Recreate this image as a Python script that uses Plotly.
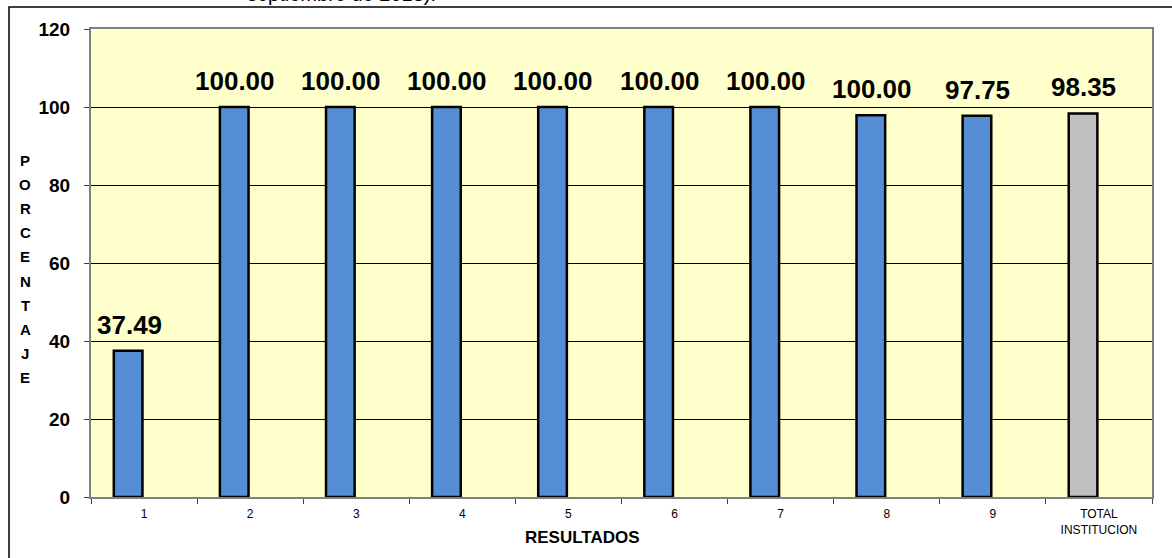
import plotly.graph_objects as go

categories = ["1", "2", "3", "4", "5", "6", "7", "8", "9", "TOTAL<br>INSTITUCION"]
values = [37.49, 100.0, 100.0, 100.0, 100.0, 100.0, 100.0, 97.9, 97.75, 98.35]
value_labels = ["37.49", "100.00", "100.00", "100.00", "100.00", "100.00", "100.00", "100.00", "97.75", "98.35"]
bar_colors = ["#558ED5"] * 9 + ["#C0C0C0"]
y_ticks = [0, 20, 40, 60, 80, 100, 120]
y_title = "PORCENTAJE"
x_title = "RESULTADOS"
top_text = "septiembre de 2013)."

FONT = "Liberation Sans, Arial, sans-serif"
W, H = 1172, 558
L, R, T, B = 91, 20, 29, 61
pw = W - L - R
ph = H - T - B

def px_x(x):
    return (x - L) / pw

def px_y(y):
    return (H - B - y) / ph

fig = go.Figure()
fig.add_trace(go.Bar(
    x=list(range(len(categories))), y=values,
    width=0.27, offset=-0.285,
    marker=dict(color=bar_colors, line=dict(color="black", width=2.5)),
    hoverinfo="skip",
))

annotations = []
for i, (v, t) in enumerate(zip(values, value_labels)):
    annotations.append(dict(
        x=i, y=v, xref="x", yref="y", text=t, showarrow=False,
        xshift=-15, yshift=26, yanchor="middle", xanchor="center",
        font=dict(family=FONT, size=26, color="black", weight="bold"),
    ))

for i, ch in enumerate(y_title):
    annotations.append(dict(
        x=px_x(25), y=px_y(160 + 24.2 * i), xref="paper", yref="paper",
        text=ch, showarrow=False, xanchor="center", yanchor="middle",
        font=dict(family=FONT, size=15, color="black", weight="bold"),
    ))

annotations.append(dict(
    x=px_x(582), y=px_y(537), xref="paper", yref="paper", text=x_title,
    showarrow=False, xanchor="center", yanchor="middle",
    font=dict(family=FONT, size=17, color="black", weight="bold"),
))

annotations.append(dict(
    x=px_x(341), y=1, xref="paper", yref="paper", text=top_text,
    showarrow=False, xanchor="center", yanchor="middle", yshift=35,
    font=dict(family=FONT, size=20, color="black"),
))

fig.update_layout(
    width=W, height=H, autosize=False,
    margin=dict(l=L, r=R, t=T, b=B, pad=0),
    paper_bgcolor="white", plot_bgcolor="#FFFFCC",
    showlegend=False,
    annotations=annotations,
    shapes=[dict(
        type="rect", xref="paper", yref="paper",
        x0=px_x(9), x1=1.3, y0=-0.5, y1=px_y(7),
        line=dict(color="black", width=1.5), layer="below",
    )],
    xaxis=dict(
        tickmode="array", tickvals=list(range(len(categories))), ticktext=categories,
        range=[-0.5, len(categories) - 0.5],
        ticks="", showline=True, linecolor="#808080", linewidth=2, mirror=True,
        showgrid=False, zeroline=False, ticklabelstandoff=5,
        tickfont=dict(family=FONT, size=12, color="black"),
        minor=dict(tickvals=[i - 0.5 for i in range(len(categories) + 1)],
                   ticks="outside", ticklen=5, tickcolor="#404040", showgrid=False),
    ),
    yaxis=dict(
        range=[0, 120], tickvals=y_ticks,
        ticks="outside", ticklen=5, tickcolor="#404040",
        showline=True, linecolor="#808080", linewidth=2, mirror=True,
        showgrid=True, gridcolor="black", gridwidth=1,
        zeroline=False, ticklabelstandoff=10,
        tickfont=dict(family=FONT, size=19, color="black", weight="bold"),
    ),
)

fig.write_html(
    "out.html",
    config={"displayModeBar": False},
    post_script="document.body.style.margin='0px';document.body.style.overflow='hidden';",
)
